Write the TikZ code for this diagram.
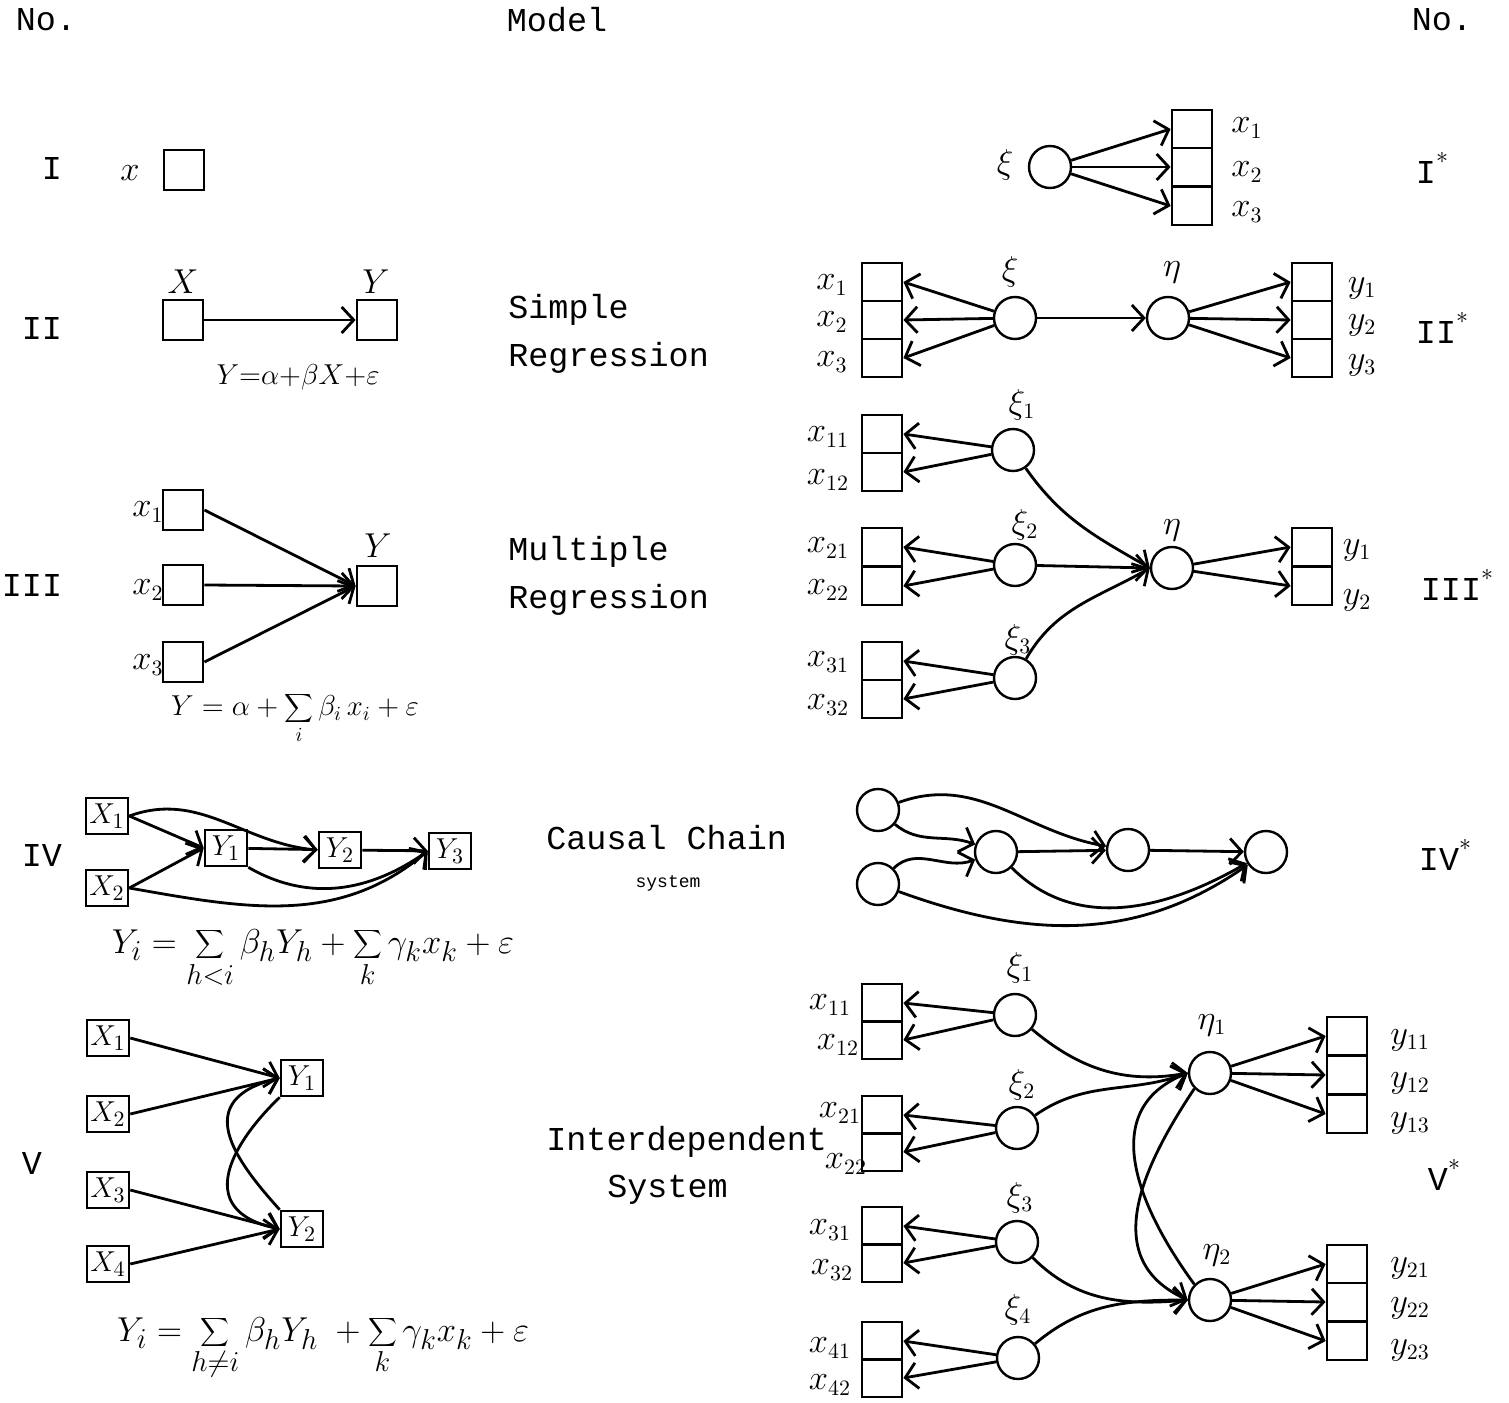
\documentclass[tikz,border=0pt]{standalone}
\usepackage{fontspec}
\newfontfamily\tw{Liberation Mono}
\usetikzlibrary{arrows.meta}
\tikzset{
 tw/.style={font=\tw\fontsize{16.7}{18}\selectfont, inner sep=0},
 twsmall/.style={font=\tw\fontsize{9}{10}\selectfont, inner sep=0},
 lab/.style={font=\fontsize{16}{18}\selectfont, inner sep=0},
 sq/.style={draw, line width=1.4pt, minimum width=20pt, minimum height=20pt, inner sep=0},
 cell/.style={draw, line width=1.4pt, minimum width=20pt, minimum height=19pt, inner sep=0},
 sbox/.style={draw, line width=1.3pt, minimum width=21pt, minimum height=18pt, inner sep=0, font=\fontsize{15}{16}\selectfont},
 lat/.style={circle, draw, line width=1.2pt, minimum size=21pt, inner sep=0},
 conn/.style={line width=1.4pt, -{Straight Barb[length=6pt,width=13pt,line width=1.4pt]}},
 eq/.style={font=\fontsize{14.5}{16}\selectfont, inner sep=0},
 eqmid/.style={font=\fontsize{14}{16}\selectfont, inner sep=0},
 eqbig/.style={font=\fontsize{19}{21}\selectfont, inner sep=0},
}
\newcommand{\st}{\raisebox{1.1ex}{\normalfont\large$\ast$}}
\begin{document}
\begin{tikzpicture}[x=0.5pt,y=-0.5pt]
\useasboundingbox (0,0) rectangle (1509,1402);
% header
\node[tw] (hno1) at (46,20) {No.};
\node[tw] (hmodel) at (557,20) {Model};
\node[tw] (hno2) at (1442,20) {No.};
% roman numerals
\node[tw] (r1) at (52,168) {I};
\node[tw] (r2) at (42,328) {II};
\node[tw] (r3) at (32,585) {III};
\node[tw] (r4) at (42,855) {IV};
\node[tw] (r5) at (32,1163) {V};
\node[tw] (s1) at (1432,168) {I\st};
\node[tw] (s2) at (1442,328) {II\st};
\node[tw] (s3) at (1457,585) {III\st};
\node[tw] (s4) at (1445,855) {IV\st};
\node[tw] (s5) at (1444,1175) {V\st};
% model names
\node[tw,anchor=west] (m2a) at (508,310) {Simple};
\node[tw,anchor=west] (m2b) at (508,358) {Regression};
\node[tw,anchor=west] (m3a) at (508,552) {Multiple};
\node[tw,anchor=west] (m3b) at (508,600) {Regression};
\node[tw,anchor=west] (m4a) at (546,838) {Causal Chain};
\node[twsmall] (m4b) at (668,883) {system};
\node[tw,anchor=west] (m5a) at (546,1142) {Interdependent};
\node[tw,anchor=west] (m5b) at (607,1190) {System};

% ---------- Row I
\node[sq] (b1) at (184,170) {};
\node[lab] (b1l) at (130,173) {$x$};
% Row I*
\node[lat] (xiI) at (1050,167) {};
\node[lab] (xiIl) at (1005,165) {$\xi$};
\node[cell] (cI1) at (1192,129) {};
\node[cell] (cI2) at (1192,167) {};
\node[cell] (cI3) at (1192,206) {};
\node[lab] at (1247,128) {$x_1$};
\node[lab] at (1247,172) {$x_2$};
\node[lab] at (1247,212) {$x_3$};
\draw[conn] (xiI) -- (cI1.west);
\draw[conn] (xiI) -- (cI2.west);
\draw[conn] (xiI) -- (cI3.west);

% ---------- Row II
\node[sq] (bX) at (183,320) {};
\node[sq] (bY) at (377,320) {};
\node[lab] at (183,282) {$X$};
\node[lab] at (376,282) {$Y$};
\draw[conn] (bX) -- (bY);
\node[eq] (eq2) at (298,377) {$Y{=}\alpha{+}\beta X{+}\varepsilon$};
% Row II*
\node[cell] (l21) at (882,282) {};
\node[cell] (l22) at (882,320) {};
\node[cell] (l23) at (882,358) {};
\node[lab] at (832,285) {$x_1$};
\node[lab] at (832,322) {$x_2$};
\node[lab] at (832,362) {$x_3$};
\node[lat] (xiII) at (1015,318) {};
\node[lab] at (1010,272) {$\xi$};
\node[lat] (etaII) at (1168,318) {};
\node[lab] at (1172,272) {$\eta$};
\node[cell] (r21) at (1312,282) {};
\node[cell] (r22) at (1312,320) {};
\node[cell] (r23) at (1312,358) {};
\node[lab] at (1362,288) {$y_1$};
\node[lab] at (1362,325) {$y_2$};
\node[lab] at (1362,365) {$y_3$};
\draw[conn] (xiII) -- (l21.east);
\draw[conn] (xiII) -- (l22.east);
\draw[conn] (xiII) -- (l23.east);
\draw[conn] (xiII) -- (etaII);
\draw[conn] (etaII) -- (r21.west);
\draw[conn] (etaII) -- (r22.west);
\draw[conn] (etaII) -- (r23.west);

% ---------- Row III
\node[sq] (b31) at (183,510) {};
\node[sq] (b32) at (183,585) {};
\node[sq] (b33) at (183,662) {};
\node[sq] (b3Y) at (377,586) {};
\node[lab] at (148,512) {$x_1$};
\node[lab] at (148,590) {$x_2$};
\node[lab] at (148,665) {$x_3$};
\node[lab] at (378,546) {$Y$};
\draw[conn] (b31.east) -- (b3Y.west);
\draw[conn] (b32.east) -- (b3Y.west);
\draw[conn] (b33.east) -- (b3Y.west);
\node[eqmid] (eq3) at (295,718) {$\displaystyle Y=\alpha+\sum_i\beta_i\,x_i+\varepsilon$};
% Row III*
\node[cell] (a11) at (882,434) {};
\node[cell] (a12) at (882,472) {};
\node[cell] (a21) at (882,547) {};
\node[cell] (a22) at (882,586) {};
\node[cell] (a31) at (882,661) {};
\node[cell] (a32) at (882,699) {};
\node[lab] at (828,437) {$x_{11}$};
\node[lab] at (828,480) {$x_{12}$};
\node[lab] at (828,548) {$x_{21}$};
\node[lab] at (828,590) {$x_{22}$};
\node[lab] at (828,662) {$x_{31}$};
\node[lab] at (828,705) {$x_{32}$};
\node[lat] (x31) at (1013,450) {};
\node[lat] (x32) at (1015,565) {};
\node[lat] (x33) at (1015,678) {};
\node[lab] at (1022,405) {$\xi_1$};
\node[lab] at (1025,525) {$\xi_2$};
\node[lab] at (1018,640) {$\xi_3$};
\node[lat] (eta3) at (1172,568) {};
\node[lab] at (1172,530) {$\eta$};
\node[cell] (y31) at (1312,547) {};
\node[cell] (y32) at (1312,586) {};
\node[lab] at (1357,550) {$y_1$};
\node[lab] at (1357,600) {$y_2$};
\draw[conn] (x31) -- (a11.east);
\draw[conn] (x31) -- (a12.east);
\draw[conn] (x32) -- (a21.east);
\draw[conn] (x32) -- (a22.east);
\draw[conn] (x33) -- (a31.east);
\draw[conn] (x33) -- (a32.east);
\draw[conn] (x31) to[out=-55,in=150] (eta3.west);
\draw[conn] (x32) -- (eta3.west);
\draw[conn] (x33) to[out=60,in=210] (eta3.west);
\draw[conn] (eta3) -- (y31.west);
\draw[conn] (eta3) -- (y32.west);

% ---------- Row IV
\node[sbox] (X41) at (107,816) {$X_1$};
\node[sbox] (X42) at (107,888) {$X_2$};
\node[sbox] (Y41) at (226,848) {$Y_1$};
\node[sbox] (Y42) at (340,850) {$Y_2$};
\node[sbox] (Y43) at (450,851) {$Y_3$};
\draw[conn] (X41.east) -- (Y41.west);
\draw[conn] (X42.east) -- (Y41.west);
\draw[conn] (Y41) -- (Y42);
\draw[conn] (Y42) -- (Y43);
\draw[conn] (X41.east) to[out=20,in=175] (Y42.west);
\draw[conn] (Y41.south east) to[out=-30,in=215] (Y43.west);
\draw[conn] (X42.east) to[out=-10,in=220] (Y43.west);
\node[eqbig] (eq4) at (313,958) {$\displaystyle Y_i=\sum_{h<i}\beta_h Y_h+\sum_k\gamma_k x_k+\varepsilon$};
% Row IV*
\node[lat] (c41) at (878,810) {};
\node[lat] (c42) at (878,884) {};
\node[lat] (c43) at (996,852) {};
\node[lat] (c44) at (1128,850) {};
\node[lat] (c45) at (1266,852) {};
\draw[conn] (c41) to[out=-40,in=160] (c43);
\draw[conn] (c42) to[out=45,in=200] (c43);
\draw[conn] (c43) -- (c44);
\draw[conn] (c44) -- (c45);
\draw[conn] (c41) to[out=20,in=170] (c44);
\draw[conn] (c43) to[out=-45,in=210] (c45);
\draw[conn] (c42) to[out=-20,in=215] (c45);

% ---------- Row V
\node[sbox] (X51) at (108,1038) {$X_1$};
\node[sbox] (X52) at (108,1114) {$X_2$};
\node[sbox] (X53) at (108,1190) {$X_3$};
\node[sbox] (X54) at (108,1264) {$X_4$};
\node[sbox] (Y51) at (302,1078) {$Y_1$};
\node[sbox] (Y52) at (302,1229) {$Y_2$};
\draw[conn] (X51.east) -- (Y51.west);
\draw[conn] (X52.east) -- (Y51.west);
\draw[conn] (X53.east) -- (Y52.west);
\draw[conn] (X54.east) -- (Y52.west);
\draw[conn] (Y51.south west) .. controls (235,1140) and (190,1210) .. (Y52.west);
\draw[conn] (Y52.north west) .. controls (235,1160) and (190,1100) .. (Y51.west);
\node[eqbig] (eq5) at (323,1348) {$\displaystyle Y_i=\sum_{h\neq i}\beta_h Y_h\;+\sum_k\gamma_k x_k+\varepsilon$};
% Row V*
\node[cell] (v11) at (882,1003) {};
\node[cell] (v12) at (882,1040) {};
\node[cell] (v21) at (882,1115) {};
\node[cell] (v22) at (882,1152) {};
\node[cell] (v31) at (882,1226) {};
\node[cell] (v32) at (882,1263) {};
\node[cell] (v41) at (882,1341) {};
\node[cell] (v42) at (882,1378) {};
\node[lab] at (830,1005) {$x_{11}$};
\node[lab] at (838,1045) {$x_{12}$};
\node[lab] at (840,1113) {$x_{21}$};
\node[lab] at (846,1164) {$x_{22}$};
\node[lab] at (830,1230) {$x_{31}$};
\node[lab] at (832,1270) {$x_{32}$};
\node[lab] at (830,1348) {$x_{41}$};
\node[lab] at (830,1385) {$x_{42}$};
\node[lat] (xi51) at (1015,1015) {};
\node[lat] (xi52) at (1017,1128) {};
\node[lat] (xi53) at (1017,1242) {};
\node[lat] (xi54) at (1018,1358) {};
\node[lab] at (1020,968) {$\xi_1$};
\node[lab] at (1022,1085) {$\xi_2$};
\node[lab] at (1020,1198) {$\xi_3$};
\node[lab] at (1018,1310) {$\xi_4$};
\node[lat] (eta51) at (1210,1073) {};
\node[lat] (eta52) at (1210,1300) {};
\node[lab] at (1212,1025) {$\eta_1$};
\node[lab] at (1217,1255) {$\eta_2$};
\node[cell] (w11) at (1347,1036) {};
\node[cell] (w12) at (1347,1075) {};
\node[cell] (w13) at (1347,1114) {};
\node[cell] (w21) at (1347,1264) {};
\node[cell] (w22) at (1347,1302) {};
\node[cell] (w23) at (1347,1341) {};
\node[lab] at (1410,1040) {$y_{11}$};
\node[lab] at (1410,1083) {$y_{12}$};
\node[lab] at (1410,1123) {$y_{13}$};
\node[lab] at (1410,1268) {$y_{21}$};
\node[lab] at (1410,1308) {$y_{22}$};
\node[lab] at (1410,1350) {$y_{23}$};
\draw[conn] (xi51) -- (v11.east);
\draw[conn] (xi51) -- (v12.east);
\draw[conn] (xi52) -- (v21.east);
\draw[conn] (xi52) -- (v22.east);
\draw[conn] (xi53) -- (v31.east);
\draw[conn] (xi53) -- (v32.east);
\draw[conn] (xi54) -- (v41.east);
\draw[conn] (xi54) -- (v42.east);
\draw[conn] (xi51) to[out=-40,in=190] (eta51.west);
\draw[conn] (xi52) to[out=35,in=200] (eta51.west);
\draw[conn] (xi53) to[out=-45,in=185] (eta52.west);
\draw[conn] (xi54) to[out=40,in=180] (eta52.west);
\draw[conn] (eta51.south west) .. controls (1140,1170) and (1100,1260) .. (eta52.west);
\draw[conn] (eta52.north west) .. controls (1140,1210) and (1095,1110) .. (eta51.west);
\draw[conn] (eta51) -- (w11.west);
\draw[conn] (eta51) -- (w12.west);
\draw[conn] (eta51) -- (w13.west);
\draw[conn] (eta52) -- (w21.west);
\draw[conn] (eta52) -- (w22.west);
\draw[conn] (eta52) -- (w23.west);
\end{tikzpicture}
\end{document}
